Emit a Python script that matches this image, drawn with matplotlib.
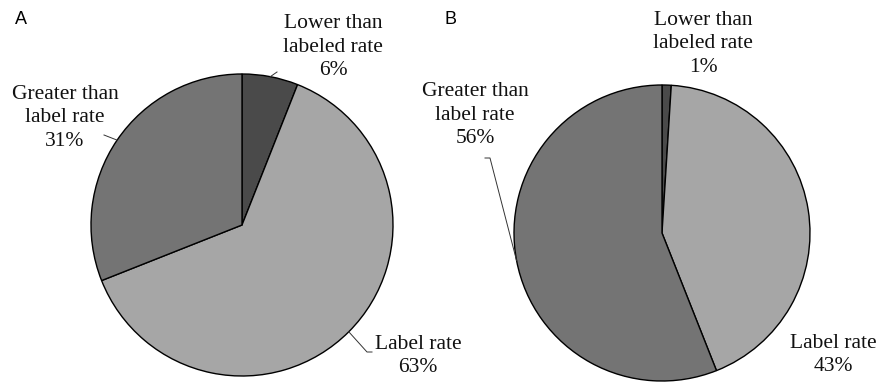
import matplotlib
matplotlib.use("Agg")
import matplotlib.pyplot as plt
import numpy as np

# slice order: clockwise from 12 o'clock
categories = ["Lower than\nlabeled rate", "Label rate", "Greater than\nlabel rate"]
pct_a = [6, 63, 31]
pct_b = [1, 43, 56]
colors = ["#4a4a4a", "#a6a6a6", "#747474"]

W, H = 880, 383
SERIF = ["Liberation Serif", "DejaVu Serif"]

fig = plt.figure(figsize=(W / 100, H / 100), dpi=100)
ax = fig.add_axes([0, 0, 1, 1])


def draw_pie(values, cx, cy, r, label_xy, leaders):
    # cx, cy in image pixels (y down); axes use y up
    wedges, _ = ax.pie(values, colors=colors, startangle=90, counterclock=False,
                       center=(cx, H - cy), radius=r,
                       wedgeprops=dict(edgecolor="black", linewidth=1.0))
    for w, v, lab, (tx, ty), leader in zip(wedges, values, categories, label_xy, leaders):
        ax.text(tx, H - ty, f"{lab}\n{v}%", ha="center", va="center",
                family=SERIF, fontsize=15.5, linespacing=1.32, color="#111111")
        if leader:
            mid = np.deg2rad((w.theta1 + w.theta2) / 2)
            xs = [cx + r * np.cos(mid)] + [p[0] for p in leader]
            ys = [H - cy + r * np.sin(mid)] + [H - p[1] for p in leader]
            ax.plot(xs, ys, color="#333333", linewidth=0.7)


draw_pie(pct_a, 242, 225, 151,
         [(333, 47), (418, 356), (65, 118)],
         [[(277, 72)], [(367, 352), (372, 352)], [(104, 135)]])
draw_pie(pct_b, 662, 233, 148,
         [(703, 44), (833, 355), (475, 115)],
         [None, None, [(490, 158), (485, 158)]])

ax.text(21, H - 19, "A", ha="center", va="center", family="Liberation Sans", fontsize=13)
ax.text(450, H - 19, "B", ha="center", va="center", family="Liberation Sans", fontsize=13)

ax.set_xlim(0, W)
ax.set_ylim(0, H)
ax.set_aspect("equal")
ax.axis("off")

fig.savefig("out.png", dpi=100, facecolor="white")
